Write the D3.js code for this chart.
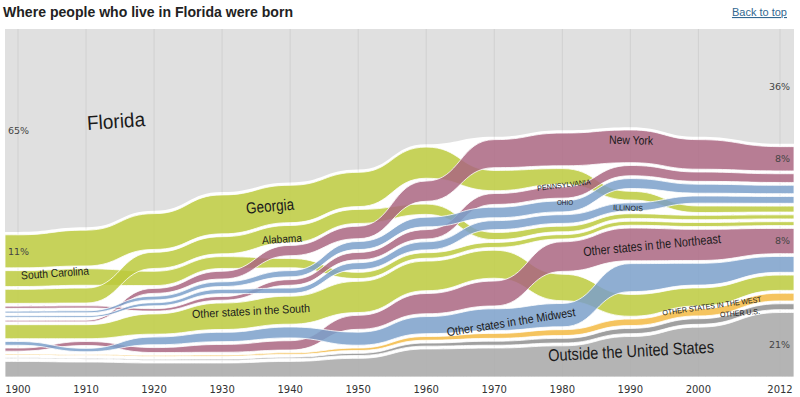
<!DOCTYPE html>
<html>
<head>
<meta charset="utf-8">
<script src="https://cdn.jsdelivr.net/npm/d3@7"></script>
<style>
  body { margin: 0; background: #fff; }
  svg text { font-family: 'Liberation Sans', Arial, sans-serif; }
</style>
</head>
<body>
<div id="chart"></div>
<script>
// Census years and share (%) of Florida residents by birthplace
const years = [1900, 1910, 1920, 1930, 1940, 1950, 1960, 1970, 1980, 1990, 2000, 2012];
const florida       = [65, 63, 58, 52, 49, 45, 37, 35, 32, 31, 34, 36];
const georgia       = [10.6, 11.5, 11.5, 12.5, 12, 11, 10, 6.5, 5, 2.8, 2.1, 1.9];
const southCarolina = [5.1, 5.3, 4.6, 3.8, 3.0, 2.0, 1.8, 1.6, 1.4, 1.3, 1.3, 1.25];
const alabama       = [4.5, 4.8, 5.2, 5.5, 5.5, 4.5, 3.3, 2.3, 1.8, 1.5, 1.4, 1.3];
const newYork       = [0.5, 0.52, 1.6, 2.5, 3.3, 4.0, 6.5, 9, 10.5, 10.5, 9.5, 7.8];
const pennsylvania  = [0.7, 0.7, 0.8, 1.2, 1.8, 2.4, 3.0, 3.5, 3.6, 3.3, 3.0, 2.8];
const ohio          = [0.6, 0.65, 1.2, 1.5, 2.0, 2.6, 3.1, 3.4, 3.5, 3.2, 2.9, 2.7];
const illinois      = [0.55, 0.58, 1.0, 1.4, 1.7, 2.2, 2.6, 2.9, 2.8, 2.6, 2.3, 2.2];
const otherSouth    = [4.5, 4.5, 6.5, 8.5, 9, 10, 9.5, 9, 8.5, 7, 5.8, 4.9];
const otherNortheast = [1.0, 1.3, 1.6, 2.5, 3.0, 4.5, 6.5, 8, 9.5, 10.5, 10, 8.1];
const otherMidwest  = [1.2, 1.1, 2.5, 3.0, 3.5, 4.2, 5.5, 7, 7.5, 9, 7, 5.1];
const otherWest     = [0.3, 0.3, 0.35, 0.4, 0.5, 0.8, 1.2, 1.6, 1.9, 2.1, 2.3, 2.5];
const otherUS       = [0.3, 0.3, 0.3, 0.35, 0.45, 0.7, 1.0, 1.3, 1.5, 1.7, 1.8, 1.9];
const outsideUS     = [5.0, 4.8, 4.5, 4.5, 5.0, 6.0, 9.0, 9.3, 10, 13, 16, 20.7];

const tickLabels = ["1900", "1910", "1920", "1930", "1940", "1950", "1960", "1970", "1980", "1990", "2000", "2012"];

// kind: "state" ribbons are ranked by size on top, "region" ribbons ranked below them, "fixed" stay at the bottom
const series = [
    { key: "Georgia", group: "south", kind: "state", values: georgia },
    { key: "South Carolina", group: "south", kind: "state", values: southCarolina },
    { key: "Alabama", group: "south", kind: "state", values: alabama },
    { key: "New York", group: "northeast", kind: "state", values: newYork },
    { key: "Pennsylvania", group: "northeast", kind: "state", values: pennsylvania },
    { key: "Ohio", group: "midwest", kind: "state", values: ohio },
    { key: "Illinois", group: "midwest", kind: "state", values: illinois },
    { key: "Other states in the South", group: "south", kind: "region", values: otherSouth },
    { key: "Other states in the Northeast", group: "northeast", kind: "region", values: otherNortheast },
    { key: "Other states in the Midwest", group: "midwest", kind: "region", values: otherMidwest },
    { key: "Other states in the West", group: "west", kind: "region", values: otherWest },
    { key: "Other U.S.", group: "otherUS", kind: "fixed", values: otherUS },
    { key: "Outside the United States", group: "outside", kind: "fixed", values: outsideUS }
];

const colors = {
    south: "#bcca3d",
    northeast: "#aa6681",
    midwest: "#7ba0ca",
    west: "#f3ba43",
    otherUS: "#8f8f8f",
    outside: "#a7a7a7"
};

const width = 800, height = 397;
const plot = { left: 5, right: 794, top: 29, bottom: 377 };
const gap = 2.8;

const svg = d3.select("#chart").append("svg")
    .attr("width", width)
    .attr("height", height);

const x = d3.scaleLinear().domain([1900, 2012]).range([18, 780]);
const h = d3.scaleLinear().domain([0, 100])
    .range([0, plot.bottom - plot.top - gap * series.length]);

// Stack the ribbons for every year, bottom up
const floridaBottom = [];
series.forEach(s => s.pos = []);
years.forEach((yr, i) => {
    const byValue = (a, b) => b.values[i] - a.values[i];
    const order = [
        ...series.filter(s => s.kind === "state").sort(byValue),
        ...series.filter(s => s.kind === "region").sort(byValue),
        ...series.filter(s => s.kind === "fixed")
    ];
    let yb = plot.bottom;
    for (let j = order.length - 1; j >= 0; j--) {
        const s = order[j];
        const top = yb - h(s.values[i]);
        s.pos[i] = { x: x(yr), y0: yb, y1: top };
        yb = top - gap;
    }
    floridaBottom[i] = { x: x(yr), y0: yb, y1: plot.top };
});

// extend flat to the plot edges
const padEnds = pts => [{ ...pts[0], x: plot.left }, ...pts, { ...pts[pts.length - 1], x: plot.right }];

const area = d3.area()
    .x(d => d.x)
    .y0(d => d.y0)
    .y1(d => d.y1)
    .curve(d3.curveBumpX);

// Background
svg.append("rect")
    .attr("x", plot.left).attr("y", plot.top)
    .attr("width", plot.right - plot.left).attr("height", plot.bottom - plot.top)
    .attr("fill", "#fff");

// Florida fills what is left on top
svg.append("path")
    .attr("d", area(padEnds(floridaBottom)))
    .attr("fill", "#e0e0e0");

// Grid lines
svg.append("g")
    .selectAll("line")
    .data(years)
    .join("line")
    .attr("x1", d => x(d)).attr("x2", d => x(d))
    .attr("y1", plot.top).attr("y2", plot.bottom)
    .attr("stroke", "#000")
    .attr("stroke-opacity", 0.07);

// Ribbons
svg.append("g")
    .selectAll("path")
    .data(series)
    .join("path")
    .attr("d", d => area(padEnds(d.pos)))
    .attr("fill", d => colors[d.group])
    .attr("fill-opacity", 0.85)
    .attr("stroke", "#fff")
    .attr("stroke-width", 0.8);

// X axis labels
svg.append("g")
    .selectAll("text")
    .data(years)
    .join("text")
    .attr("x", d => x(d))
    .attr("y", 393)
    .attr("text-anchor", "middle")
    .style("font-family", "'DejaVu Sans', sans-serif")
    .style("font-size", "10px")
    .style("fill", "#333")
    .text((d, i) => tickLabels[i]);

// Title and link
svg.append("text")
    .attr("x", 3).attr("y", 17)
    .attr("textLength", 290)
    .attr("lengthAdjust", "spacingAndGlyphs")
    .style("font-size", "15px")
    .style("font-weight", "bold")
    .style("fill", "#222")
    .text("Where people who live in Florida were born");

svg.append("text")
    .attr("x", 787).attr("y", 16)
    .attr("text-anchor", "end")
    .style("font-size", "11px")
    .style("fill", "#326891")
    .style("text-decoration", "underline")
    .text("Back to top");

// Percent labels at the start and end of the series
const last = years.length - 1;
const mid = p => (p.y0 + p.y1) / 2;
const byKey = k => series.find(s => s.key === k);
const pctLabels = [
    { text: florida[0] + "%", x: 8, y: mid(floridaBottom[0]), anchor: "start" },
    { text: Math.round(georgia[0]) + "%", x: 8, y: mid(byKey("Georgia").pos[0]), anchor: "start" },
    { text: florida[last] + "%", x: 790, y: mid(floridaBottom[last]), anchor: "end" },
    { text: Math.round(newYork[last]) + "%", x: 790, y: mid(byKey("New York").pos[last]), anchor: "end" },
    { text: Math.round(otherNortheast[last]) + "%", x: 790, y: mid(byKey("Other states in the Northeast").pos[last]), anchor: "end" },
    { text: Math.round(outsideUS[last]) + "%", x: 790, y: mid(byKey("Outside the United States").pos[last]), anchor: "end" }
];
svg.append("g")
    .selectAll("text")
    .data(pctLabels)
    .join("text")
    .attr("x", d => d.x)
    .attr("y", d => d.y)
    .attr("dy", "0.35em")
    .attr("text-anchor", d => d.anchor)
    .style("font-family", "'DejaVu Sans', sans-serif")
    .style("font-size", "9.5px")
    .style("fill", "#444")
    .text(d => d.text);

// Ribbon names, placed where they sit in the original
const names = [
    { text: "Florida", cx: 116, cy: 121, size: 20, len: 58, angle: -4 },
    { text: "Georgia", cx: 270, cy: 206, size: 16, len: 48, angle: -5 },
    { text: "Alabama", cx: 282, cy: 239, size: 11, len: 40, angle: -3 },
    { text: "South Carolina", cx: 55, cy: 273, size: 11.5, len: 68, angle: -4 },
    { text: "Other states in the South", cx: 251, cy: 311, size: 11.5, len: 118, angle: -3 },
    { text: "Other states in the Midwest", cx: 511, cy: 322, size: 12, len: 130, angle: -9 },
    { text: "Other states in the Northeast", cx: 652, cy: 245, size: 13, len: 138, angle: -5.5 },
    { text: "New York", cx: 631, cy: 140, size: 12, len: 44, angle: 1.5 },
    { text: "PENNSYLVANIA", cx: 564, cy: 185, size: 7.5, len: 54, angle: -7 },
    { text: "OHIO", cx: 565, cy: 202, size: 7.5, len: 16, angle: 0 },
    { text: "ILLINOIS", cx: 628, cy: 208, size: 7.5, len: 30, angle: 2 },
    { text: "OTHER STATES IN THE WEST", cx: 712, cy: 306, size: 7.5, len: 100, angle: -8 },
    { text: "OTHER U.S.", cx: 740, cy: 313, size: 7.5, len: 40, angle: -5 },
    { text: "Outside the United States", cx: 631, cy: 351, size: 17, len: 166, angle: -3 }
];
svg.append("g")
    .selectAll("text")
    .data(names)
    .join("text")
    .attr("transform", d => `translate(${d.cx},${d.cy}) rotate(${d.angle})`)
    .attr("dy", "0.35em")
    .attr("text-anchor", "middle")
    .attr("textLength", d => d.len)
    .attr("lengthAdjust", "spacingAndGlyphs")
    .style("font-size", d => d.size + "px")
    .style("fill", "#1a1a1a")
    .text(d => d.text);
</script>
</body>
</html>
